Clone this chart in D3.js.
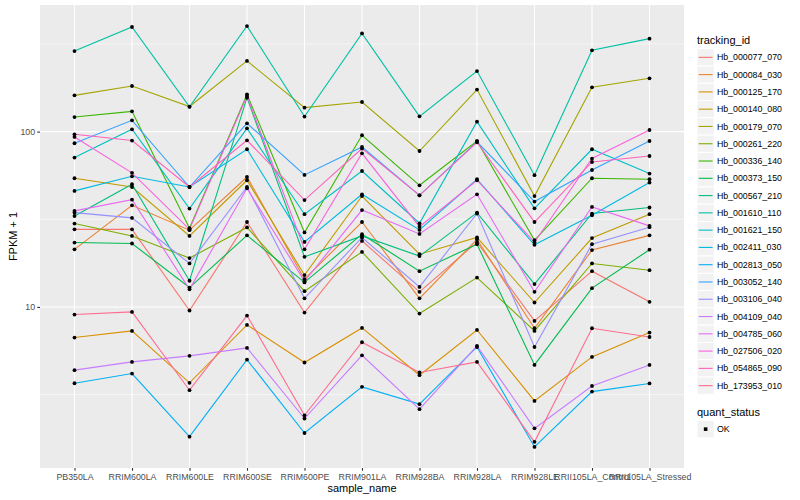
<!DOCTYPE html>
<html>
<head>
<meta charset="utf-8">
<script src="https://cdn.jsdelivr.net/npm/d3@7"></script>
<style>
body { margin: 0; background: #fff; }
text { font-family: "Liberation Sans", Arial, Helvetica, sans-serif; }
</style>
</head>
<body>
<svg id="chart" width="800" height="500"></svg>
<script>
// samples on the x axis
var samples = ["PB350LA", "RRIM600LA", "RRIM600LE", "RRIM600SE", "RRIM600PE", "RRIM901LA",
               "RRIM928BA", "RRIM928LA", "RRIM928LE", "RRII105LA_Control", "RRII105LA_Stressed"];

var trackingIds = ["Hb_000077_070", "Hb_000084_030", "Hb_000125_170", "Hb_000140_080", "Hb_000179_070",
                   "Hb_000261_220", "Hb_000336_140", "Hb_000373_150", "Hb_000567_210", "Hb_001610_110",
                   "Hb_001621_150", "Hb_002411_030", "Hb_002813_050", "Hb_003052_140", "Hb_003106_040",
                   "Hb_004109_040", "Hb_004785_060", "Hb_027506_020", "Hb_054865_090", "Hb_173953_010"];

// FPKM + 1, one row per tracking id, in sample order
var fpkm = [
  [27.7, 27.7, 9.54, 30.5, 9.29, 23.8, 12.2, 23.4, 8.32, 16.0, 10.7],   // Hb_000077_070
  [21.3, 38.0, 27.4, 55.1, 14.4, 30.5, 11.2, 24.3, 7.56, 21.1, 25.6],   // Hb_000084_030
  [6.69, 7.30, 3.69, 7.90, 4.82, 7.59, 4.08, 7.39, 2.91, 5.19, 7.14],   // Hb_000125_170
  [54.2, 48.3, 25.4, 52.8, 15.2, 42.9, 20.0, 24.9, 10.6, 24.7, 33.8],   // Hb_000140_080
  [161, 182, 139, 253, 137, 147.5, 77.5, 173.6, 42.9, 178.9, 201.4],    // Hb_000179_070
  [29.9, 25.4, 19.0, 28.4, 12.3, 20.6, 9.17, 14.7, 7.30, 17.7, 16.2],   // Hb_000261_220
  [121.1, 130.5, 28.1, 163.2, 26.6, 95.3, 49.4, 88.4, 24.0, 54.2, 53.5], // Hb_000336_140
  [23.3, 23.0, 12.9, 25.6, 13.8, 26.0, 16.0, 22.8, 4.67, 12.8, 21.2],   // Hb_000373_150
  [33.0, 50.1, 14.1, 156.2, 19.3, 25.4, 19.5, 34.5, 13.5, 34.1, 36.9],  // Hb_000567_210
  [288, 395, 138.5, 400, 121.8, 363, 122.2, 221.5, 56.4, 290.8, 339],   // Hb_001610_110
  [71.1, 103.1, 36.4, 104.4, 33.8, 59.6, 30.0, 114.0, 36.5, 79.3, 57.6], // Hb_001621_150
  [45.9, 55.6, 48.3, 79.3, 23.5, 43.9, 27.5, 53.5, 22.6, 33.3, 51.2],   // Hb_002411_030
  [3.67, 4.17, 1.82, 5.01, 1.91, 3.50, 2.79, 5.91, 1.59, 3.29, 3.66],   // Hb_002813_050
  [85.8, 116.0, 48.3, 111.5, 56.6, 81.7, 43.3, 87.5, 39.9, 60.4, 88.4], // Hb_003052_140
  [34.5, 32.2, 17.7, 48.3, 11.2, 24.9, 13.0, 34.1, 5.91, 22.8, 28.5],   // Hb_003106_040
  [4.36, 4.86, 5.26, 5.84, 2.31, 5.30, 2.61, 5.99, 2.03, 3.54, 4.67],   // Hb_004109_040
  [35.3, 40.9, 12.6, 47.5, 14.0, 35.7, 26.1, 43.9, 12.2, 37.2, 29.0],   // Hb_004785_060
  [93.2, 58.2, 27.7, 159.6, 21.3, 75.2, 28.7, 52.8, 23.4, 70.2, 102.1], // Hb_027506_020
  [96.5, 88.9, 48.3, 89.2, 40.7, 80.0, 43.3, 86.9, 30.5, 67.1, 72.6],   // Hb_054865_090
  [9.05, 9.37, 3.35, 8.93, 2.41, 6.29, 4.23, 4.86, 1.70, 7.56, 6.74]    // Hb_173953_010
];

var yTicks = [10, 100];
var yMinor = [Math.pow(10, 0.5), Math.pow(10, 1.5), Math.pow(10, 2.5)];

// ggplot default hue palette for 20 groups
var colors = ["#F8766D", "#EA8331", "#D89000", "#C09B00", "#A3A500", "#7CAE00", "#39B600", "#00BB4E",
              "#00BF7D", "#00C1A3", "#00BFC4", "#00BAE0", "#00B0F6", "#35A2FF", "#9590FF", "#C77CFF",
              "#E76BF3", "#FA62DB", "#FF62BC", "#FF6C91"];

var svg = d3.select("#chart");
var panelLeft = 40, panelRight = 684, panelTop = 5, panelBottom = 468;

var x = d3.scalePoint().domain(samples).range([panelLeft, panelRight]).padding(0.6);

// log scale with 5% expansion in log space, like ggplot
var allVals = d3.merge(fpkm);
var lmin = Math.log10(d3.min(allVals)), lmax = Math.log10(d3.max(allVals));
var ext = (lmax - lmin) * 0.05;
var y = d3.scaleLog()
          .domain([Math.pow(10, lmin - ext), Math.pow(10, lmax + ext)])
          .range([panelBottom, panelTop]);

// panel background
svg.append("rect")
   .attr("x", panelLeft).attr("y", panelTop)
   .attr("width", panelRight - panelLeft).attr("height", panelBottom - panelTop)
   .attr("fill", "#EBEBEB");

// minor grid
svg.selectAll(".minor")
   .data(yMinor.filter(function(d) { return y(d) > panelTop && y(d) < panelBottom; }))
   .enter().append("line")
   .attr("x1", panelLeft).attr("x2", panelRight)
   .attr("y1", function(d) { return y(d); }).attr("y2", function(d) { return y(d); })
   .attr("stroke", "#fff").attr("stroke-width", 0.55);

// major grid
svg.selectAll(".majorY")
   .data(yTicks)
   .enter().append("line")
   .attr("x1", panelLeft).attr("x2", panelRight)
   .attr("y1", function(d) { return y(d); }).attr("y2", function(d) { return y(d); })
   .attr("stroke", "#fff").attr("stroke-width", 1.1);

svg.selectAll(".majorX")
   .data(samples)
   .enter().append("line")
   .attr("y1", panelTop).attr("y2", panelBottom)
   .attr("x1", function(d) { return x(d); }).attr("x2", function(d) { return x(d); })
   .attr("stroke", "#fff").attr("stroke-width", 1.1);

// lines, one per tracking id
var line = d3.line()
  .x(function(d, i) { return x(samples[i]); })
  .y(function(d) { return y(d); });

svg.selectAll(".series")
   .data(fpkm)
   .enter().append("path")
   .attr("d", function(d) { return line(d); })
   .attr("fill", "none")
   .attr("stroke", function(d, i) { return colors[i]; })
   .attr("stroke-width", 1.1);

// points on top
fpkm.forEach(function(row) {
  svg.selectAll(null)
     .data(row)
     .enter().append("circle")
     .attr("cx", function(d, i) { return x(samples[i]); })
     .attr("cy", function(d) { return y(d); })
     .attr("r", 1.9)
     .attr("fill", "#000");
});

// axes
var xAxis = svg.append("g")
   .attr("transform", "translate(0," + panelBottom + ")")
   .call(d3.axisBottom(x).tickSize(2.75).tickPadding(2.6));
var yAxis = svg.append("g")
   .attr("transform", "translate(" + panelLeft + ",0)")
   .call(d3.axisLeft(y).tickValues(yTicks).tickFormat(d3.format("d")).tickSize(2.75).tickPadding(2.2));

[xAxis, yAxis].forEach(function(g) {
  g.select(".domain").remove();
  g.selectAll(".tick line").attr("stroke", "#333333").attr("stroke-width", 1.1);
  g.selectAll(".tick text").attr("fill", "#4D4D4D").style("font-size", "8.8px")
   .style("font-family", "'Liberation Sans', Arial, sans-serif");
});

// axis titles
svg.append("text")
   .attr("x", (panelLeft + panelRight) / 2).attr("y", 492)
   .attr("text-anchor", "middle")
   .style("font-size", "11px").attr("fill", "#000")
   .text("sample_name");

svg.append("text")
   .attr("transform", "translate(17," + ((panelTop + panelBottom) / 2) + ") rotate(-90)")
   .attr("text-anchor", "middle")
   .style("font-size", "11px").attr("fill", "#000")
   .text("FPKM + 1");

// legend: tracking_id
var legX = 697, keySize = 17.28, legTop = 48.7;
svg.append("text")
   .attr("x", legX).attr("y", 44)
   .style("font-size", "11px").attr("fill", "#000")
   .text("tracking_id");

var keys = svg.selectAll(".key")
   .data(trackingIds)
   .enter().append("g")
   .attr("transform", function(d, i) { return "translate(" + legX + "," + (legTop + i * keySize) + ")"; });

keys.append("rect")
    .attr("width", keySize).attr("height", keySize)
    .attr("fill", "#F2F2F2").attr("stroke", "#fff").attr("stroke-width", 1);
keys.append("line")
    .attr("x1", 1.7).attr("x2", keySize - 1.7)
    .attr("y1", keySize / 2).attr("y2", keySize / 2)
    .attr("stroke", function(d, i) { return colors[i]; })
    .attr("stroke-width", 1.1);
keys.append("text")
    .attr("x", keySize + 2.6).attr("y", keySize / 2)
    .attr("dy", "0.35em")
    .style("font-size", "8.8px").attr("fill", "#000")
    .text(function(d) { return d; });

// legend: quant_status
var qTop = 420.5;
svg.append("text")
   .attr("x", legX).attr("y", 416)
   .style("font-size", "11px").attr("fill", "#000")
   .text("quant_status");
svg.append("rect")
   .attr("x", legX).attr("y", qTop)
   .attr("width", keySize).attr("height", keySize)
   .attr("fill", "#F2F2F2").attr("stroke", "#fff");
svg.append("rect")
   .attr("x", legX + keySize / 2 - 1.8).attr("y", qTop + keySize / 2 - 1.8)
   .attr("width", 3.6).attr("height", 3.6)
   .attr("fill", "#000");
svg.append("text")
   .attr("x", legX + keySize + 2.6).attr("y", qTop + keySize / 2)
   .attr("dy", "0.35em")
   .style("font-size", "8.8px").attr("fill", "#000")
   .text("OK");
</script>
</body>
</html>
